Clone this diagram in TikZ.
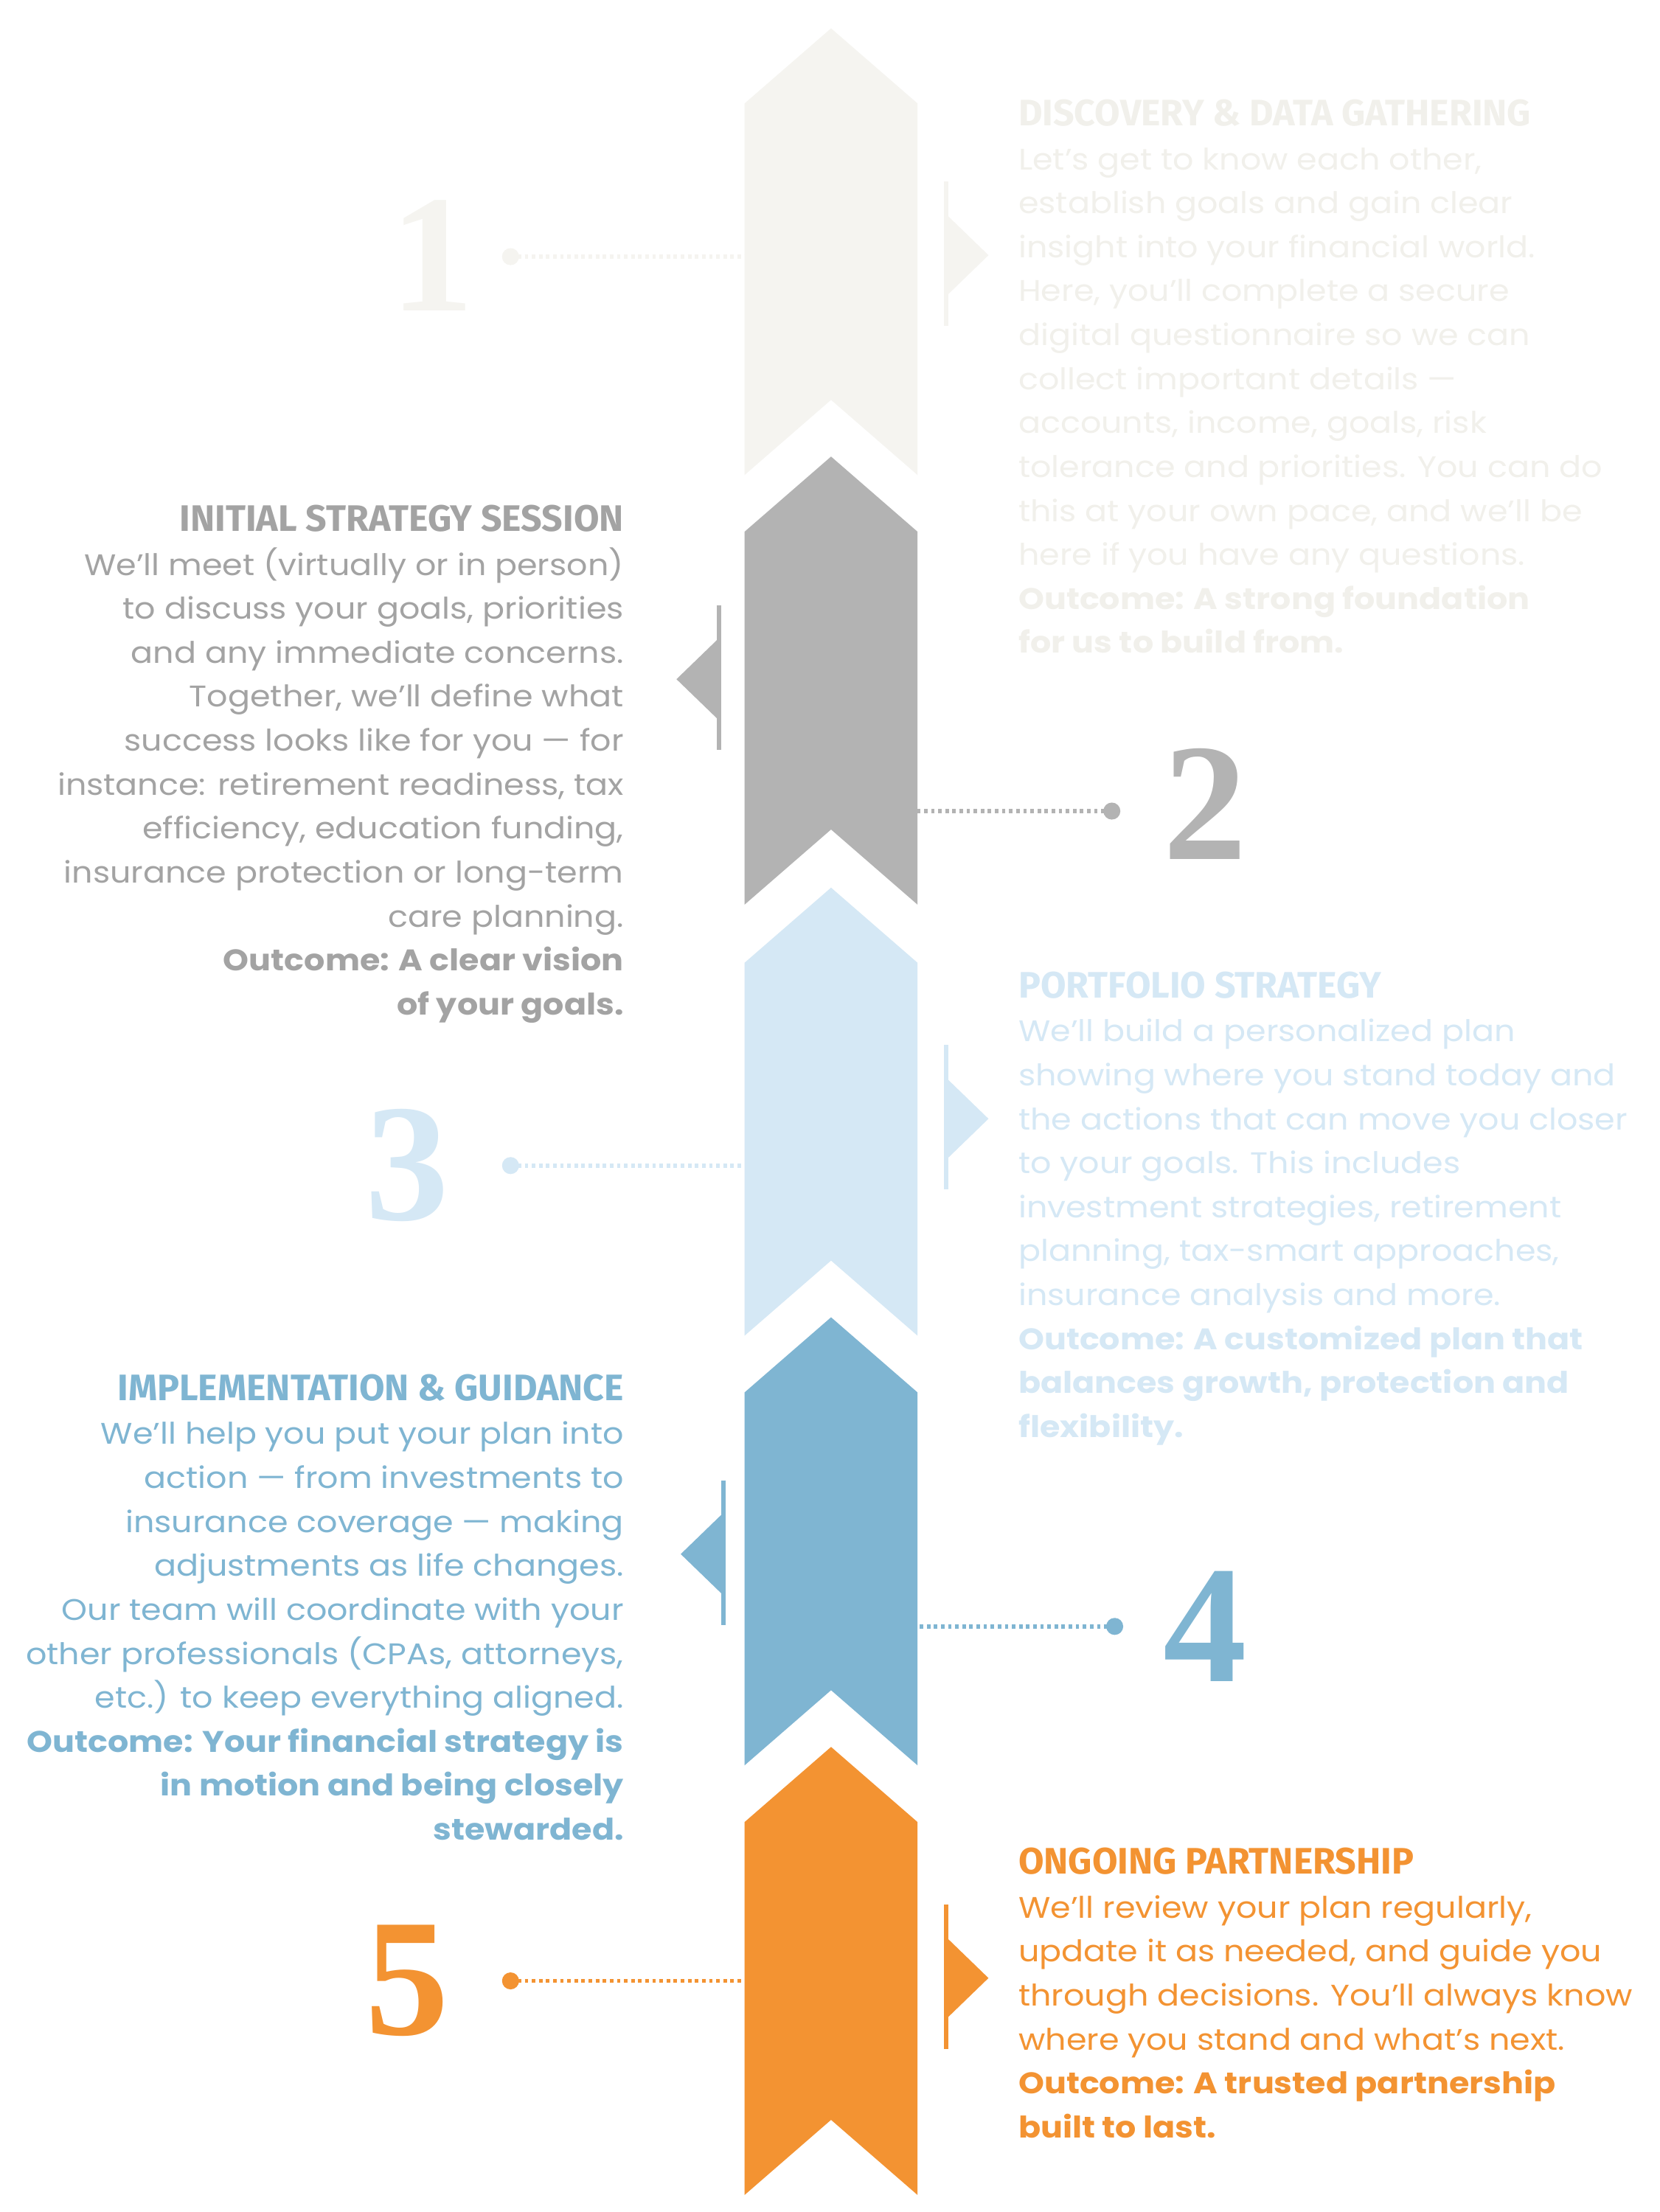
\documentclass[tikz,border=0pt]{standalone}
\usepackage{fontspec}
\setmainfont[FakeStretch=1.1]{Poppins}
\newfontfamily\headfont{Fira Sans}
\newfontfamily\numfont{Liberation Serif}
\definecolor{cA}{HTML}{F5F4F0}
\definecolor{cAt}{HTML}{F1F0EB}
\definecolor{cB}{HTML}{B3B3B3}
\definecolor{cBt}{HTML}{A3A3A3}
\definecolor{cC}{HTML}{D5E8F5}
\definecolor{cD}{HTML}{7FB5D2}
\definecolor{cE}{HTML}{F39332}
\newcommand\mychev[3]{\fill[#3] (525,{#1+53})--(586,#1)--(647,{#1+53})--(647,#2)--(586,{#2-53})--(525,#2)--cycle;}
\newcommand\hdtxt[1]{{\headfont\bfseries\fontsize{26}{31}\selectfont #1}}
\begin{document}
\begin{tikzpicture}[x=1pt,y=-1pt,
  body/.style={inner sep=0pt,font=\fontsize{21}{31}\selectfont},
  rtext/.style={body,anchor=north west,align=left},
  ltext/.style={body,anchor=north east,align=right},
  num/.style={inner sep=0pt,font=\numfont\bfseries\fontsize{118}{118}\selectfont},
  dotline/.style={line width=3pt,dash pattern=on 2.5pt off 2.5pt}]
\useasboundingbox (0,0) rectangle (1170,1560);
\fill[white] (0,0) rectangle (1170,1560);
% chevrons
\mychev{20}{335}{cA}
\mychev{322}{638}{cB}
\mychev{626}{942}{cC}
\mychev{929}{1245}{cD}
\mychev{1232}{1548}{cE}
% markers
\newcommand\rmark[2]{\draw[#2,line width=3pt] (667,{#1-52})--(667,{#1+50}); \fill[#2] (666,{#1-30})--(697,#1)--(666,{#1+30})--cycle;}
\newcommand\lmark[2]{\draw[#2,line width=3pt] (507,{#1-52})--(507,{#1+50}); \fill[#2] (508,{#1-30})--(477,#1)--(508,{#1+30})--cycle;}
\rmark{180}{cA}
\lmark{479}{cB}
\rmark{789}{cC}
\begin{scope}[xshift=3pt]\lmark{1096}{cD}\end{scope}
\rmark{1395}{cE}
% numbers and dotted connectors
\node[num,text=cA] (n1) at (305,180) {1};
\coordinate (d1) at (360,181); \coordinate (e1) at (525,181);
\fill[cA] (d1) circle (6); \draw[cA,dotline] (d1)--(e1);
\node[num,text=cB] (n2) at (850,567) {2};
\coordinate (d2) at (784,572); \coordinate (e2) at (647,572);
\fill[cB] (d2) circle (6); \draw[cB,dotline] (d2)--(e2);
\node[num,text=cC] (n3) at (287,822) {3};
\coordinate (d3) at (360,822); \coordinate (e3) at (525,822);
\fill[cC] (d3) circle (6); \draw[cC,dotline] (d3)--(e3);
\node[num,text=cD] (n4) at (850,1147) {4};
\coordinate (d4) at (786,1147); \coordinate (e4) at (647,1147);
\fill[cD] (d4) circle (6); \draw[cD,dotline] (d4)--(e4);
\node[num,text=cE] (n5) at (287,1397) {5};
\coordinate (d5) at (360,1397); \coordinate (e5) at (525,1397);
\fill[cE] (d5) circle (6); \draw[cE,dotline] (d5)--(e5);
% texts
\node[rtext,text=cAt] (t1) at (718,70) {\hdtxt{DISCOVERY \& DATA GATHERING}\\
Let’s get to know each other,\\
establish goals and gain clear\\
insight into your financial world.\\
Here, you’ll complete a secure\\
digital questionnaire so we can\\
collect important details —\\
accounts, income, goals, risk\\
tolerance and priorities. You can do\\
this at your own pace, and we’ll be\\
here if you have any questions.\\
\bfseries Outcome: A strong foundation\\
\bfseries for us to build from.};
\node[ltext,text=cBt] (t2) at (440,356) {\hdtxt{INITIAL STRATEGY SESSION}\\
We’ll meet (virtually or in person)\\
to discuss your goals, priorities\\
and any immediate concerns.\\
Together, we’ll define what\\
success looks like for you — for\\
instance: retirement readiness, tax\\
efficiency, education funding,\\
insurance protection or long-term\\
care planning.\\
\bfseries Outcome: A clear vision\\
\bfseries of your goals.};
\node[rtext,text=cC] (t3) at (718,685) {\hdtxt{PORTFOLIO STRATEGY}\\
We’ll build a personalized plan\\
showing where you stand today and\\
the actions that can move you closer\\
to your goals. This includes\\
investment strategies, retirement\\
planning, tax-smart approaches,\\
insurance analysis and more.\\
\bfseries Outcome: A customized plan that\\
\bfseries balances growth, protection and\\
\bfseries flexibility.};
\node[ltext,text=cD] (t4) at (440,969) {{\headfont\bfseries\fontsize{26}{35}\selectfont IMPLEMENTATION \& GUIDANCE}\\
We’ll help you put your plan into\\
action — from investments to\\
insurance coverage — making\\
adjustments as life changes.\\
Our team will coordinate with your\\
other professionals (CPAs, attorneys,\\
etc.) to keep everything aligned.\\
\bfseries Outcome: Your financial strategy is\\
\bfseries in motion and being closely\\
\bfseries stewarded.};
\node[rtext,text=cE] (t5) at (718,1303) {{\headfont\bfseries\fontsize{26}{35}\selectfont ONGOING PARTNERSHIP}\\
We’ll review your plan regularly,\\
update it as needed, and guide you\\
through decisions. You’ll always know\\
where you stand and what’s next.\\
\bfseries Outcome: A trusted partnership\\
\bfseries built to last.};
\end{tikzpicture}
\end{document}
